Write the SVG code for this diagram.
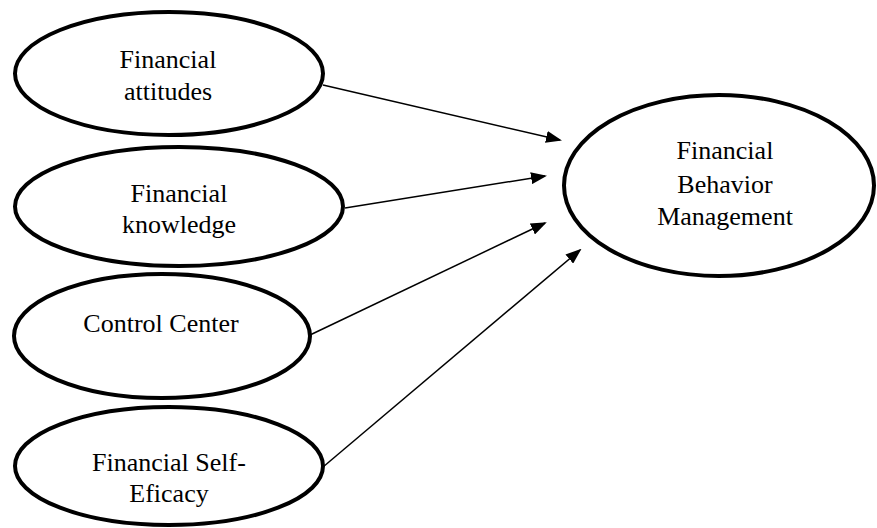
<svg xmlns="http://www.w3.org/2000/svg" width="877" height="528" viewBox="0 0 877 528">
<style>
.node{fill:#fff;stroke:#000;stroke-width:4}
.lbl{font-family:"Liberation Serif","Times New Roman",serif;font-size:26px;fill:#000;text-anchor:middle}
.conn{stroke:#000;stroke-width:1.5;fill:none;marker-end:url(#ah)}
</style>
<defs>
<marker id="ah" markerUnits="userSpaceOnUse" markerWidth="16" markerHeight="12" refX="14" refY="6" orient="auto">
<path d="M0,0 L16,6 L0,12 z" fill="#000"/>
</marker>
</defs>
<rect width="877" height="528" fill="#fff"/>
<g id="connectors">
<line class="conn" x1="323" y1="85" x2="560" y2="140"/>
<line class="conn" x1="345" y1="208" x2="545" y2="176"/>
<line class="conn" x1="310" y1="335" x2="545" y2="223"/>
<line class="conn" x1="323" y1="467" x2="580" y2="250"/>
</g>
<g id="node-attitudes">
<ellipse class="node" cx="169" cy="73.5" rx="154" ry="61.5"/>
<text class="lbl" x="168" y="68">Financial</text>
<text class="lbl" x="168" y="100">attitudes</text>
</g>
<g id="node-knowledge">
<ellipse class="node" cx="179" cy="206.5" rx="164" ry="59.5"/>
<text class="lbl" x="179" y="202">Financial</text>
<text class="lbl" x="179" y="233">knowledge</text>
</g>
<g id="node-control">
<ellipse class="node" cx="162" cy="336" rx="148" ry="62"/>
<text class="lbl" x="161" y="332">Control Center</text>
</g>
<g id="node-selfefficacy">
<ellipse class="node" cx="169" cy="466" rx="154" ry="59"/>
<text class="lbl" x="169" y="471">Financial Self-</text>
<text class="lbl" x="169" y="502">Eficacy</text>
</g>
<g id="node-behavior">
<ellipse class="node" cx="719" cy="185.5" rx="155" ry="90.5"/>
<text class="lbl" x="725" y="159">Financial</text>
<text class="lbl" x="725" y="193">Behavior</text>
<text class="lbl" x="725" y="225">Management</text>
</g>
</svg>
